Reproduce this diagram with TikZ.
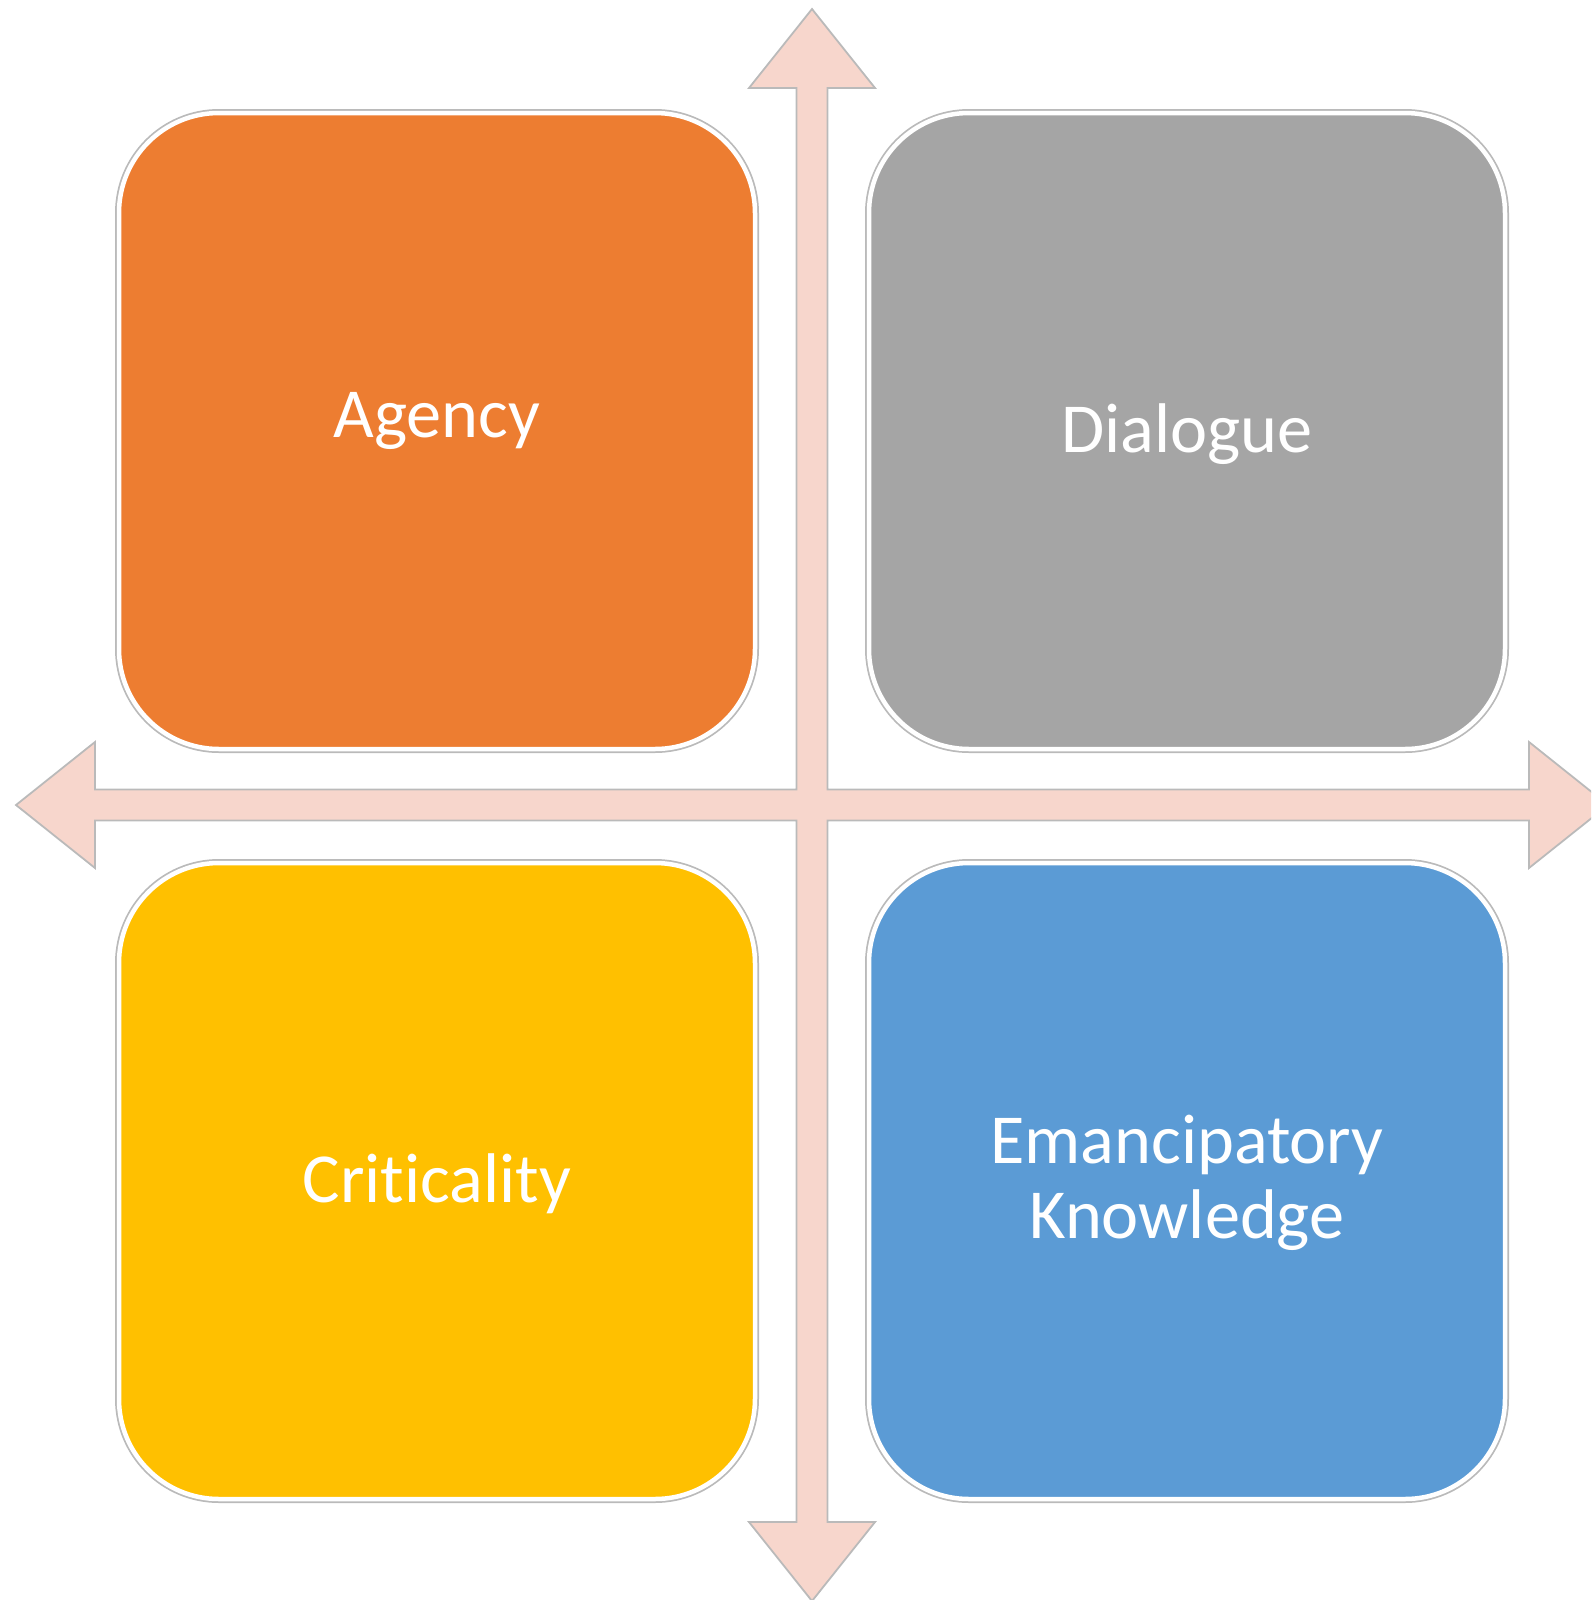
\documentclass[tikz,border=0pt]{standalone}
\usepackage{fontspec}
\setmainfont{Carlito}[Ligatures=NoCommon]

\definecolor{agencyorange}{HTML}{ED7D31}
\definecolor{dialoguegray}{HTML}{A5A5A5}
\definecolor{criticalyellow}{HTML}{FFC000}
\definecolor{knowledgeblue}{HTML}{5B9BD5}
\definecolor{axispink}{HTML}{F7D6CC}
\definecolor{rimgray}{HTML}{BABABA}

\tikzset{
  quadbox/.style={rectangle, rounded corners=10mm, minimum width=63.6mm, minimum height=63.6mm,
    inner sep=0pt, preaction={draw=rimgray, line width=0.8mm}, draw=white, line width=0.45mm},
  quadlabel/.style={text=white, font=\fontsize{20}{22}\selectfont, anchor=base, inner sep=0pt},
}

\begin{document}
\begin{tikzpicture}[x=0.1mm,y=-0.1mm]

\useasboundingbox (0,0) rectangle (1591,1600);
\clip (0,0) rectangle (1591,1600);

% four-way axis arrow
\begin{scope}[shift={(812,805)}]
\draw[fill=axispink, draw=rimgray, line width=0.18mm]
  (-15.5,-15.5) -- (-15.5,-717) -- (-63,-717) -- (0,-796) -- (63,-717) -- (15.5,-717) -- (15.5,-15.5)
  -- (717,-15.5) -- (717,-63) -- (796,0) -- (717,63) -- (717,15.5) -- (15.5,15.5)
  -- (15.5,717) -- (63,717) -- (0,796) -- (-63,717) -- (-15.5,717) -- (-15.5,15.5)
  -- (-717,15.5) -- (-717,63) -- (-796,0) -- (-717,-63) -- (-717,-15.5) -- cycle;
\end{scope}

% quadrants
\node[quadbox, fill=agencyorange] (agency) at (437,431) {};
\node[quadbox, fill=dialoguegray] (dialogue) at (1187,431) {};
\node[quadbox, fill=criticalyellow] (criticality) at (437,1181) {};
\node[quadbox, fill=knowledgeblue] (knowledge) at (1187,1181) {};

\node[quadlabel] (agencylabel) at (437,437) {Agency};
\node[quadlabel] (dialoguelabel) at (1187,452) {Dialogue};
\node[quadlabel] (criticalitylabel) at (437,1202) {Criticality};
\node[quadlabel] (knowledgelabel) at (1187,1163) {Emancipatory};
\node[quadlabel] (knowledgelabelb) at (1187,1238) {Knowledge};

\end{tikzpicture}
\end{document}
